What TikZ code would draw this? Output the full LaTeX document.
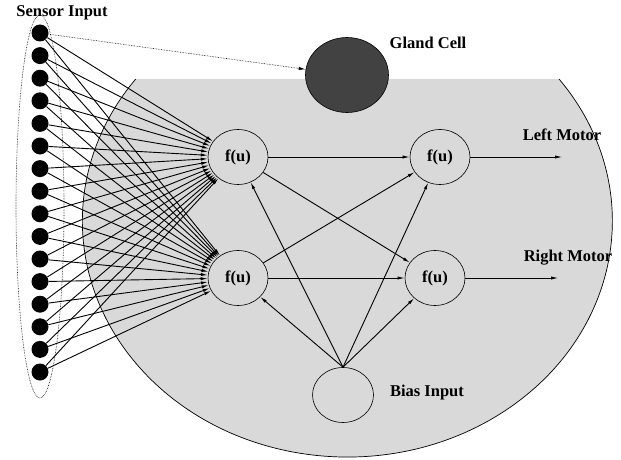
\documentclass[tikz,border=0pt]{standalone}
\usepackage{fontspec}
\setmainfont{Liberation Serif}
\usetikzlibrary{arrows.meta,shapes.geometric}
\definecolor{regiongray}{HTML}{D9D9D9}
\definecolor{glandgray}{HTML}{424242}
\begin{document}
\begin{tikzpicture}[x=1pt,y=1pt,>={Latex[length=7pt,width=3.2pt]},
    lbl/.style={font=\fontsize{16.5}{19}\selectfont\bfseries},
    sensor/.style={circle,fill=black,minimum size=17pt,inner sep=0pt},
    unit/.style={ellipse,draw,line width=0.6pt,minimum width=60pt,minimum height=55pt,inner sep=0pt,font=\fontsize{16.5}{19}\selectfont\bfseries},
    link/.style={->,line width=0.9pt}]
    \useasboundingbox (0,0) rectangle (621,459);
    % the grey body
    \fill[regiongray] (559,380) arc[start angle=37,end angle=-217,x radius=265,y radius=236] -- cycle;
    \draw[line width=0.7pt] (559,380) arc[start angle=37,end angle=-217,x radius=265,y radius=236];
    % sensors
    \draw[densely dotted,line width=0.6pt] (40,252.5) ellipse[x radius=24,y radius=191.5];
    \node[lbl] (sensorlbl) at (62,446) {Sensor Input};
    \foreach \i in {1,...,16}
        \node[sensor] (s\i) at (40,{448.6-22.6*\i}) {};
    % gland cell
    \node[ellipse,draw,line width=0.6pt,fill=glandgray,minimum width=83pt,minimum height=75pt] (gland) at (347,384) {};
    \node[lbl] (glandlbl) at (428,416) {Gland Cell};
    \draw[->,densely dotted,line width=0.6pt] (s1) -- (gland);
    % neurons
    \node[unit] (h1) at (238,302) {f(u)};
    \node[unit] (h2) at (238,181) {f(u)};
    \node[unit] (o1) at (440,302) {f(u)};
    \node[unit] (o2) at (435,181) {f(u)};
    \node[unit,minimum width=61pt] (bias) at (343,64) {};
    \node[lbl] (biaslbl) at (427,66) {Bias Input};
    \foreach \i in {1,...,16}{
        \draw[link] (s\i) -- (h1);
        \draw[link] (s\i) -- (h2);
    }
    \draw[link] (h1) -- (o1);
    \draw[link] (h1) -- (o2);
    \draw[link] (h2) -- (o1);
    \draw[link] (h2) -- (o2);
    \foreach \n in {h1,h2,o1,o2}
        \draw[link] (bias.north) -- (\n);
    % motors
    \coordinate (lm) at (562,302);
    \coordinate (rm) at (558,181);
    \draw[link,line width=0.7pt] (o1) -- (lm);
    \draw[link,line width=0.7pt] (o2) -- (rm);
    \node[lbl] (lmlbl) at (562,324) {Left Motor};
    \node[lbl] (rmlbl) at (568,201) {Right Motor};
\end{tikzpicture}
\end{document}
